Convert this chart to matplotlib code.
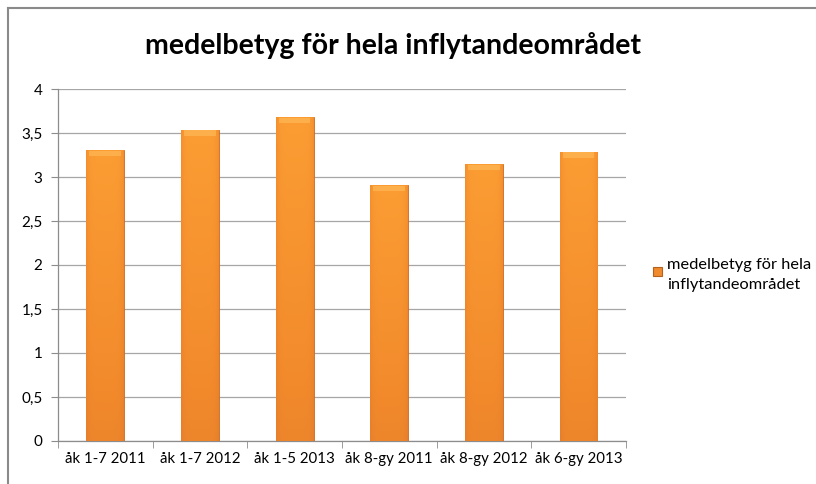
import numpy as np
import matplotlib.pyplot as plt
from matplotlib.colors import LinearSegmentedColormap
from matplotlib.lines import Line2D
from matplotlib.patches import Rectangle

# --- Data ---
categories = ['åk 1-7 2011', 'åk 1-7 2012', 'åk 1-5 2013',
              'åk 8-gy 2011', 'åk 8-gy 2012', 'åk 6-gy 2013']
values = [3.31, 3.54, 3.68, 2.91, 3.15, 3.29]
series_name = 'medelbetyg för hela\ninflytandeområdet'
title = 'medelbetyg för hela inflytandeområdet'
y_ticks = [0, 0.5, 1, 1.5, 2, 2.5, 3, 3.5, 4]
y_tick_labels = ['0', '0,5', '1', '1,5', '2', '2,5', '3', '3,5', '4']

plt.rcParams['font.family'] = ['Lato', 'DejaVu Sans']

W, H = 816, 484
fig = plt.figure(figsize=(W / 100, H / 100), dpi=100)
ax = fig.add_axes([0.071, 0.089, 0.696, 0.727])

x = np.arange(len(categories))
bars = ax.bar(x, values, width=0.40, color='#f7922c', edgecolor='#c96a20',
              linewidth=0.6, zorder=3)

# gradient fill for each bar (lighter on top, darker toward the bottom, shaded edges)
cmap = LinearSegmentedColormap.from_list('orange', ['#d9742a', '#f28a2c', '#fb9d33'])
ny, nx = 200, 40
vert = np.linspace(0, 1, ny)[:, None]
horiz = 1 - 0.35 * (np.abs(np.linspace(-1, 1, nx))[None, :] ** 6)
grad = np.clip(vert * 0.6 + 0.4, 0, 1) * horiz
for b in bars:
    x0, y0 = b.get_x(), b.get_y()
    w, h = b.get_width(), b.get_height()
    im = ax.imshow(grad, cmap=cmap, vmin=0, vmax=1, origin='lower',
                   extent=[x0, x0 + w, y0, y0 + h], aspect='auto', zorder=3.5,
                   interpolation='bilinear')
    im.set_clip_path(b)
    # bevelled highlight at the top
    ax.fill_between([x0 + w * 0.08, x0 + w * 0.92], y0 + h - 0.07, y0 + h - 0.01,
                    color='#ffc060', alpha=0.55, lw=0, zorder=3.6)

ax.set_xlim(-0.5, len(categories) - 0.5)
ax.set_ylim(0, 4)
ax.set_yticks(y_ticks)
ax.set_yticklabels(y_tick_labels, fontsize=11)
ax.yaxis.grid(True, color='#a6a6a6', linewidth=0.9, zorder=0)
ax.set_axisbelow(True)

ax.set_xticks(x)
ax.set_xticklabels(categories, fontsize=10.8)
ax.tick_params(axis='x', length=0, pad=8)
ax.set_xticks(np.arange(len(categories) + 1) - 0.5, minor=True)
ax.tick_params(axis='x', which='minor', length=5, color='#8c8c8c', direction='out')
ax.tick_params(axis='y', length=5, color='#8c8c8c', direction='out', pad=6)

for side in ['top', 'right']:
    ax.spines[side].set_visible(False)
for side in ['left', 'bottom']:
    ax.spines[side].set_color('#8c8c8c')
    ax.spines[side].set_linewidth(0.9)

fig.text(0.482, 0.905, title, ha='center', va='center', fontsize=20.5, fontweight='bold')

# legend: marker aligned with the first line of the wrapped label
fig.add_artist(Rectangle((653 / W, 1 - 276 / H), 9 / W, 9 / H, transform=fig.transFigure,
                         facecolor='#f08a2c', edgecolor='#b5611e', lw=0.8))
fig.text(667 / W, 1 - 258 / H, series_name, ha='left', va='top', fontsize=11.8,
         linespacing=1.5)

# outer chart border (top and left visible in the screenshot)
fig.add_artist(Line2D([8 / W, 1], [1 - 8 / H, 1 - 8 / H], color='#8a8a8a',
                      lw=1.5, transform=fig.transFigure))
fig.add_artist(Line2D([8 / W, 8 / W], [0, 1 - 8 / H], color='#8a8a8a',
                      lw=1.5, transform=fig.transFigure))

fig.savefig('out.png', dpi=100)
